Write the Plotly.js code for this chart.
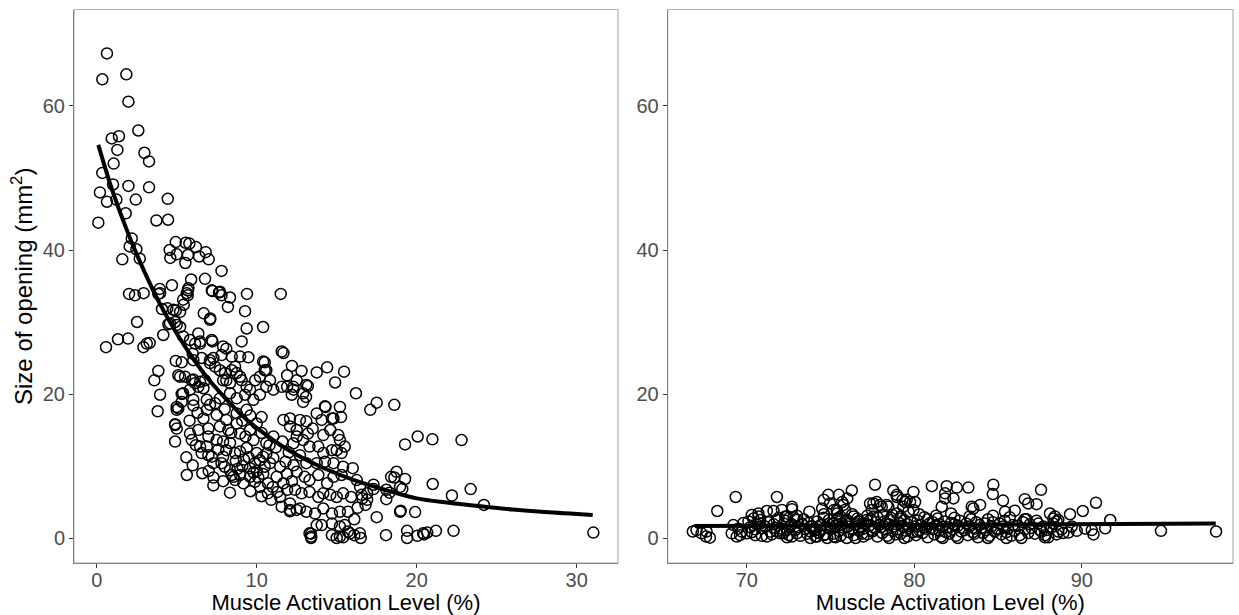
<!DOCTYPE html>
<html><head><meta charset="utf-8">
<script src="https://cdn.plot.ly/plotly-3.0.1.min.js"></script>
<style>html,body{margin:0;padding:0;background:#fff}#chart{width:1239px;height:615px}</style>
</head><body><div id="chart"></div>
<script>
// Left panel observations [activation %, opening mm2]
const leftPts = [
[0.64,67.3],[0.35,63.7],[1.85,64.4],[1.98,60.6],[2.6,56.6],[0.94,55.5],[1.39,55.8],[1.29,53.9],[2.98,53.5],[3.27,52.3],
[1.06,52.0],[0.35,50.7],[1.02,49.1],[1.98,48.9],[3.27,48.7],[0.2,48.0],[0.64,46.7],[1.23,47.0],[2.44,47.0],[4.44,47.1],
[1.81,45.1],[0.1,43.8],[3.73,44.1],[4.46,44.2],[2.19,41.6],[2.06,40.5],[2.48,40.1],[2.69,38.8],[1.6,38.7],[4.94,41.1],
[5.56,41.0],[5.79,40.9],[6.2,40.4],[6.81,39.7],[4.56,40.0],[5.0,39.4],[5.7,39.3],[6.4,39.1],[7.0,38.7],[4.6,38.9],
[5.54,38.2],[7.8,37.1],[5.9,35.9],[6.77,36.0],[4.7,35.1],[3.94,34.6],[5.69,34.4],[7.23,34.3],[7.64,34.1],[2.02,33.9],
[2.39,33.7],[2.93,34.0],[3.85,33.9],[5.69,33.7],[7.8,33.7],[8.33,33.4],[9.39,33.9],[11.5,33.9],[8.2,32.1],[9.27,31.5],
[4.08,31.8],[4.41,31.9],[4.94,31.6],[5.44,32.4],[6.69,31.2],[7.1,30.5],[2.52,30.0],[9.37,29.1],[10.4,29.3],[4.48,29.7],
[5.0,29.6],[4.16,28.2],[6.35,28.4],[5.4,28.0],[0.58,26.5],[1.33,27.6],[1.96,27.7],[2.92,26.5],[3.31,27.1],[7.23,27.3],
[7.9,26.6],[9.06,27.3],[6.46,27.0],[6.0,25.6],[7.08,24.7],[8.44,25.2],[8.96,25.2],[9.48,25.1],[4.94,24.6],[5.31,24.4],
[10.5,24.4],[11.56,25.9],[12.2,23.9],[12.8,23.2],[13.75,23.0],[3.85,23.2],[3.6,21.9],[3.96,19.9],[3.81,17.6],[5.1,22.6],
[5.52,22.4],[6.04,22.0],[6.46,21.7],[5.31,20.0],[6.04,18.4],[5.1,18.0],[4.9,15.7],[4.9,13.4],[5.83,14.5],[6.35,15.0],
[6.67,16.6],[5.63,8.75],[7.29,7.3],[8.33,6.3],[8.54,8.5],[9.17,7.6],[13.4,0.2],[13.4,0.6],[13.75,1.8],[12.08,3.7],
[11.56,4.35],[14.4,23.7],[15.46,23.1],[14.9,21.6],[13.2,21.1],[13.08,19.6],[16.2,20.1],[17.1,17.8],[17.5,18.8],[18.6,18.5],
[14.3,18.2],[15.2,18.2],[15.27,16.8],[14.8,16.6],[19.27,13.0],[20.06,14.1],[20.98,13.7],[22.8,13.6],[18.74,9.2],[19.27,8.2],
[18.6,8.4],[21.0,7.5],[23.37,6.8],[22.2,5.9],[24.2,4.6],[19.1,6.8],[18.3,6.3],[18.1,5.4],[17.3,6.8],[17.5,2.9],
[19.0,3.8],[19.9,3.6],[18.08,0.4],[19.4,1.0],[19.4,0.0],[20.04,0.3],[20.46,0.5],[20.66,0.75],[21.2,1.0],[22.3,1.0],
[31.04,0.75],[16.45,0.65],[16.5,0.0],[15.7,0.9],[15.4,0.1],[15.0,0.0],[13.4,0.0],[16.6,5.5],[16.8,4.6],[16.9,6.2],
[16.3,4.2],[16.1,2.6],[5.0,17.8],[4.9,15.8],[5.0,15.2],[5.94,13.6],[6.98,15.2],[6.98,14.1],[6.56,11.8],[6.88,12.7],
[7.19,11.3],[7.8,10.4],[8.0,9.9],[8.44,8.75],[8.65,8.05],[8.96,8.75],[9.58,8.5],[9.89,7.8],[10.2,7.1],[10.7,6.2],
[9.58,9.7],[9.89,10.4],[10.2,10.8],[10.5,9.9],[7.5,13.6],[7.9,13.4],[8.33,13.2],[8.65,11.8],[8.96,12.0],[9.37,12.5],
[7.7,15.5],[8.23,15.0],[8.75,15.9],[8.96,14.5],[10.0,11.8],[10.4,11.3],[10.83,10.4],[11.04,11.1],[11.46,9.9],[11.25,8.5],
[11.67,7.6],[11.9,6.7],[11.46,5.7],[12.08,4.8],[12.5,3.9],[11.67,16.4],[12.08,15.5],[12.5,14.1],[10.6,13.2],[11.04,14.1],
[9.58,15.0],[10.0,15.9],[10.3,16.8],[6.88,17.8],[7.5,17.1],[8.1,16.4],[8.75,17.3],[9.37,17.8],[3.96,34.0],[5.4,33.1],
[5.63,34.0],[5.73,34.7],[7.19,34.4],[7.7,34.2],[4.79,31.7],[5.21,31.4],[7.08,30.3],[4.58,29.8],[4.9,30.0],[5.21,29.3],
[6.46,27.3],[5.83,27.5],[6.15,27.0],[7.19,27.5],[8.1,26.3],[3.13,27.0],[11.67,25.7],[6.04,24.7],[6.56,25.0],[7.29,25.0],
[7.8,25.4],[10.4,24.5],[10.6,23.3],[5.21,22.4],[5.94,21.9],[6.15,21.5],[6.35,21.0],[6.67,20.8],[6.77,21.9],[7.08,24.3],
[7.4,23.8],[7.7,23.3],[8.02,22.9],[8.1,21.9],[8.44,23.3],[8.65,23.8],[8.75,22.9],[8.96,22.4],[7.9,21.9],[8.33,21.5],
[9.06,21.9],[9.37,21.0],[9.58,20.6],[9.9,21.9],[10.2,22.4],[10.5,23.3],[10.83,21.9],[5.4,20.1],[5.83,20.6],[6.04,19.2],
[6.88,19.2],[7.08,18.5],[7.4,18.7],[7.7,19.4],[8.33,20.1],[8.75,19.4],[9.27,19.9],[9.79,19.2],[10.2,19.9],[10.6,21.0],
[11.04,20.6],[11.56,21.0],[11.9,21.0],[12.3,20.6],[12.5,21.9],[11.9,22.6],[5.0,18.2],[5.31,18.9],[13.1,21.25],[12.29,21.0],
[12.19,19.9],[12.9,20.1],[12.9,18.9],[14.27,18.3],[12.08,16.6],[12.7,16.4],[13.1,16.2],[13.75,17.3],[14.06,16.4],[14.7,16.6],
[12.5,15.0],[13.2,14.5],[13.5,15.2],[14.16,14.3],[14.6,15.0],[15.1,14.3],[15.2,13.6],[15.5,12.7],[12.29,13.15],[12.9,13.6],
[13.3,12.7],[13.85,12.7],[14.16,11.8],[14.7,12.2],[15.0,12.2],[15.3,11.8],[12.7,11.5],[13.1,10.4],[13.75,10.4],[14.27,10.6],
[14.8,10.4],[15.4,9.9],[16.0,9.7],[12.5,9.2],[13.0,8.5],[13.3,8.05],[13.85,8.75],[14.4,7.6],[14.8,8.5],[15.3,8.75],
[16.25,8.05],[16.46,7.1],[17.3,7.4],[18.1,6.7],[18.4,8.5],[18.96,7.1],[12.4,6.7],[12.8,6.2],[13.3,6.4],[13.85,5.7],
[14.16,6.2],[14.6,6.0],[15.0,5.7],[15.4,6.2],[15.9,5.7],[16.56,6.0],[16.9,5.3],[12.08,3.9],[12.7,4.1],[13.1,3.65],
[13.65,3.4],[14.16,4.1],[14.7,3.4],[15.2,3.65],[15.7,3.65],[18.96,3.65],[14.06,1.8],[14.7,2.0],[15.2,1.6],[15.5,1.8],
[15.83,0.65],[16.1,0.4],[13.3,0.65],[14.7,0.4],[15.2,0.2],[20.4,0.65],[6.46,12.7],[6.98,11.5],[7.29,10.4],[7.9,11.3],
[8.33,9.4],[9.2,10.9],[9.5,11.2],[9.8,9.1],[10.1,8.4],[10.4,8.9],[10.7,7.6],[11.0,7.1],[11.3,6.4],[10.9,5.3],
[10.3,5.8],[9.6,6.5],[11.8,10.6],[11.2,12.6],[10.8,12.9],[10.3,14.6],[9.8,13.6],[9.3,14.1],[11.6,13.4],[12.0,11.9],
[12.3,10.1],[11.9,8.9],[12.2,7.9],[9.1,10.0],[8.8,9.6],[10.0,9.3],[10.6,11.7],[5.6,11.2],[6.0,10.1],[6.2,12.9],
[5.8,16.3],[6.3,17.4],[7.0,9.3],[7.3,8.4],[7.6,12.3],[8.1,12.2],[8.4,14.6],[8.0,17.9],[6.6,9.0],[7.9,7.9],
[8.7,10.7],[9.1,16.3],[9.6,17.0]
];
// Right panel observations
const rightPts = [
[66.78,0.9],[67.0,1.1],[67.3,0.65],[67.57,0.2],[67.8,0.05],[67.6,0.9],[68.24,3.75],[69.34,5.7],[69.1,0.65],[69.4,0.2],
[69.6,0.4],[70.1,2.3],[70.4,2.7],[70.7,3.0],[70.8,2.5],[70.0,0.65],[70.5,0.4],[71.2,3.75],[71.6,3.75],[72.1,3.9],
[72.7,4.0],[71.8,5.7],[70.9,1.35],[71.4,0.9],[72.0,0.65],[72.4,1.1],[72.7,0.2],[73.0,0.65],[71.8,2.5],[72.4,3.0],
[72.2,2.0],[73.0,2.5],[73.74,3.65],[73.3,2.0],[73.8,1.6],[74.1,1.1],[74.4,1.8],[73.8,0.0],[74.2,0.2],[74.6,0.4],
[74.8,0.0],[74.5,4.1],[74.6,5.3],[74.87,6.0],[74.97,4.8],[75.5,6.0],[75.7,5.0],[76.0,5.5],[76.27,6.6],[75.2,3.9],
[75.4,3.4],[75.87,3.9],[75.77,4.6],[75.2,2.0],[75.57,2.3],[75.97,2.5],[76.4,3.0],[76.66,2.3],[76.96,2.0],[75.2,0.2],
[75.97,0.0],[76.5,0.0],[76.96,0.2],[77.66,7.4],[77.36,4.8],[77.76,5.0],[78.06,4.35],[78.36,4.6],[78.75,6.6],[78.96,5.7],
[79.45,5.0],[79.95,6.4],[80.05,5.0],[77.16,2.5],[77.56,3.0],[78.16,3.2],[78.56,2.5],[79.15,2.7],[79.65,3.65],[79.95,3.9],
[78.96,6.0],[79.55,5.3],[79.35,4.35],[77.56,4.8],[77.96,4.6],[78.45,4.35],[78.96,3.4],[77.46,3.9],[75.37,3.9],[70.3,3.2],
[70.7,3.4],[72.3,3.0],[72.7,4.35],[81.05,7.2],[81.94,7.2],[82.54,7.0],[83.23,7.0],[81.84,6.2],[82.34,5.5],[81.84,5.5],
[84.72,7.4],[84.69,6.1],[85.3,5.2],[79.3,5.3],[79.75,5.0],[81.64,4.35],[83.43,4.35],[83.93,4.6],[85.42,3.65],[86.0,3.8],
[86.6,5.4],[86.8,4.8],[87.3,4.7],[87.57,6.7],[88.1,3.4],[88.4,3.0],[88.6,2.5],[89.3,3.3],[90.06,3.75],[83.53,4.1],
[86.6,2.6],[88.3,2.7],[88.5,2.3],[90.85,4.9],[91.7,2.5],[91.4,1.35],[87.9,1.1],[88.6,0.9],[89.2,0.75],[90.6,1.1],
[90.7,0.5],[94.73,1.0],[98.02,0.9],[87.8,0.1],[88.0,0.1],
[69.2,1.8],[69.5,1.3],[69.8,2.1],[69.7,0.9],[70.2,1.5],[70.3,0.8],[70.6,1.9],[70.9,0.3],[70.8,2.0],[70.5,1.2],
[71.1,1.6],[71.3,2.2],[71.5,0.5],[71.7,1.4],[71.9,2.8],[71.2,0.2],[71.6,1.9],[71.8,0.9],[72.1,1.3],[72.3,2.4],
[72.5,0.4],[72.6,1.7],[72.8,2.9],[72.9,1.1],[72.2,0.7],[72.7,1.9],[72.4,0.1],[73.1,1.5],[73.2,0.3],[73.4,2.6],
[73.5,1.2],[73.6,0.6],[73.7,2.1],[73.9,1.6],[73.3,1.9],[73.8,0.9],[73.0,3.1],[74.0,1.3],[74.2,2.3],[74.3,0.7],
[74.5,1.8],[74.6,2.8],[74.7,0.5],[74.8,1.5],[74.9,2.5],[74.1,0.2],[74.4,1.0],[74.6,3.3],[75.0,1.2],[75.1,2.0],
[75.2,0.6],[75.3,1.7],[75.4,2.7],[75.5,1.0],[75.6,0.3],[75.7,1.9],[75.8,1.4],[75.9,2.3],[75.3,0.1],[75.6,3.0],
[76.0,1.6],[76.1,0.8],[76.2,2.1],[76.3,1.2],[76.4,0.4],[76.5,1.9],[76.6,2.7],[76.7,1.0],[76.8,1.5],[76.9,0.6],
[76.3,3.3],[76.7,2.3],[77.0,1.3],[77.1,2.0],[77.2,0.5],[77.3,1.7],[77.4,2.6],[77.5,0.9],[77.6,1.4],[77.7,2.2],
[77.8,0.2],[77.9,1.8],[77.2,3.1],[77.5,1.1],[77.8,2.9],[78.0,1.5],[78.1,0.7],[78.2,2.3],[78.3,1.2],[78.4,0.3],
[78.5,1.9],[78.6,2.8],[78.7,1.0],[78.8,1.6],[78.9,0.5],[78.3,2.0],[78.7,3.2],[78.5,0.0],[79.0,1.2],[79.1,2.1],
[79.2,0.6],[79.3,1.7],[79.4,2.5],[79.5,1.0],[79.6,0.2],[79.7,1.4],[79.8,2.2],[79.9,0.8],[79.2,3.0],[79.6,1.9],
[79.4,0.0],[80.0,1.6],[80.1,0.4],[80.2,2.4],[80.3,1.1],[80.4,1.8],[80.5,0.7],[80.6,2.9],[80.7,1.3],[80.8,0.1],
[80.9,2.0],[80.3,3.3],[80.6,1.5],[80.8,2.6],[80.2,0.9],[81.0,1.4],[81.1,2.2],[81.2,0.5],[81.3,1.8],[81.4,2.7],
[81.5,1.0],[81.6,0.2],[81.7,1.6],[81.8,2.3],[81.9,0.8],[81.3,3.1],[81.5,1.9],[81.7,0.0],[81.1,1.2],[82.0,1.5],
[82.1,0.6],[82.2,2.1],[82.3,1.2],[82.4,2.8],[82.5,0.3],[82.6,1.7],[82.7,2.4],[82.8,0.9],[82.9,1.4],[82.2,3.4],
[82.6,0.0],[82.4,1.9],[83.0,1.1],[83.1,2.0],[83.2,0.4],[83.3,1.6],[83.4,2.6],[83.5,0.8],[83.6,1.3],[83.7,2.2],
[83.8,0.1],[83.9,1.8],[83.3,3.0],[83.6,0.6],[84.0,1.4],[84.1,0.7],[84.2,2.0],[84.3,1.1],[84.4,2.6],[84.5,0.3],
[84.6,1.6],[84.7,2.2],[84.8,0.9],[84.9,1.3],[84.4,0.0],[84.7,3.1],[85.0,1.2],[85.1,2.0],[85.2,0.5],[85.3,1.6],
[85.4,2.4],[85.5,0.8],[85.6,1.3],[85.7,2.9],[85.8,0.3],[85.9,1.8],[85.5,0.0],[86.0,1.0],[86.2,1.7],[86.3,0.4],
[86.5,2.2],[86.6,1.2],[86.8,0.7],[86.9,1.9],[86.4,0.0],[86.7,2.6],[87.0,1.4],[87.2,0.6],[87.4,2.0],[87.5,1.1],
[87.7,1.6],[87.8,0.4],[87.3,2.4],[87.6,0.9],[88.2,1.5],[88.5,0.5],[88.8,1.2],[88.3,2.0],[88.9,0.7],[89.4,1.6],
[89.7,1.0],[90.2,1.3]
];
// Fitted curves
const fitLeftX = [0.1,1,2,3,4,5,6,7,8,9,10,12,14,16,18,20,22,24,26,28,31];
const fitLeftY = [54.6,48.1,42.1,36.9,32.3,28.4,25.0,22.0,19.5,17.2,15.3,12.2,9.9,8.1,6.7,5.5,4.9,4.4,3.95,3.6,3.2];
const fitRightX = [66.9,70,75,80,85,90,95,98];
const fitRightY = [1.67,1.71,1.76,1.81,1.86,1.91,1.96,2.0];
// Tick labels
const leftXTicks = [0,10,20,30];
const rightXTicks = [70,80,90];
const yTicks = [0,20,40,60];

const font = 'Liberation Sans, Arial, sans-serif';
const marker = {symbol:'circle-open', size:11, color:'#000', line:{width:1.5}};
const traces = [
  {x:leftPts.map(p=>p[0]), y:leftPts.map(p=>p[1]), type:'scatter', mode:'markers', marker:marker, xaxis:'x', yaxis:'y', hoverinfo:'x+y'},
  {x:fitLeftX, y:fitLeftY, type:'scatter', mode:'lines', line:{color:'#000', width:4, shape:'spline'}, xaxis:'x', yaxis:'y'},
  {x:rightPts.map(p=>p[0]), y:rightPts.map(p=>p[1]), type:'scatter', mode:'markers', marker:marker, xaxis:'x2', yaxis:'y2', hoverinfo:'x+y'},
  {x:fitRightX, y:fitRightY, type:'scatter', mode:'lines', line:{color:'#000', width:4}, xaxis:'x2', yaxis:'y2'}
];
const W = 1239, H = 615;
const yDom = [(H-563)/H, (H-9.5)/H];
function xa(dom, range, ticks, anchor){
  return {domain:dom, range:range, tickvals:ticks, ticktext:ticks.map(String), anchor:anchor,
    ticks:'outside', ticklen:4, tickwidth:1, tickcolor:'#333', showline:true, linecolor:'#808080', linewidth:1,
    showgrid:false, zeroline:false, ticklabelstandoff:-5, tickfont:{family:font, size:20, color:'#4d4d4d'},
    title:{text:'Muscle Activation Level (%)', font:{family:font, size:22, color:'#000'}, standoff:6}};
}
function ya(range, anchor, title){
  return {domain:yDom, range:range, tickvals:yTicks, ticktext:yTicks.map(String), anchor:anchor,
    ticks:'outside', ticklen:4, tickwidth:1, tickcolor:'#333', showline:true, linecolor:'#808080', linewidth:1,
    showgrid:false, zeroline:false, tickfont:{family:font, size:20, color:'#4d4d4d'},
    title:{text:title, font:{family:font, size:24, color:'#000'}, standoff:3}};
}
const layout = {
  width:W, height:H, margin:{l:0,r:0,t:0,b:0}, showlegend:false,
  paper_bgcolor:'#fff', plot_bgcolor:'#fff',
  xaxis: xa([74/W, 618/W], [-1.42, 32.58], leftXTicks, 'y'),
  yaxis: ya([-3.47, 73.4], 'x', 'Size of opening (mm<sup>2</sup>)'),
  xaxis2: xa([667.7/W, 1233/W], [65.28, 99.03], rightXTicks, 'y2'),
  yaxis2: ya([-3.47, 73.4], 'x2', ''),
  shapes:[
    {type:'rect', xref:'x domain', yref:'y domain', x0:0, x1:1, y0:0, y1:1, line:{color:'#b3b3b3', width:1.2}, layer:'below'},
    {type:'rect', xref:'x2 domain', yref:'y2 domain', x0:0, x1:1, y0:0, y1:1, line:{color:'#b3b3b3', width:1.2}, layer:'below'}
  ]
};
Plotly.newPlot('chart', traces, layout, {displayModeBar:false, staticPlot:true});
</script></body></html>
